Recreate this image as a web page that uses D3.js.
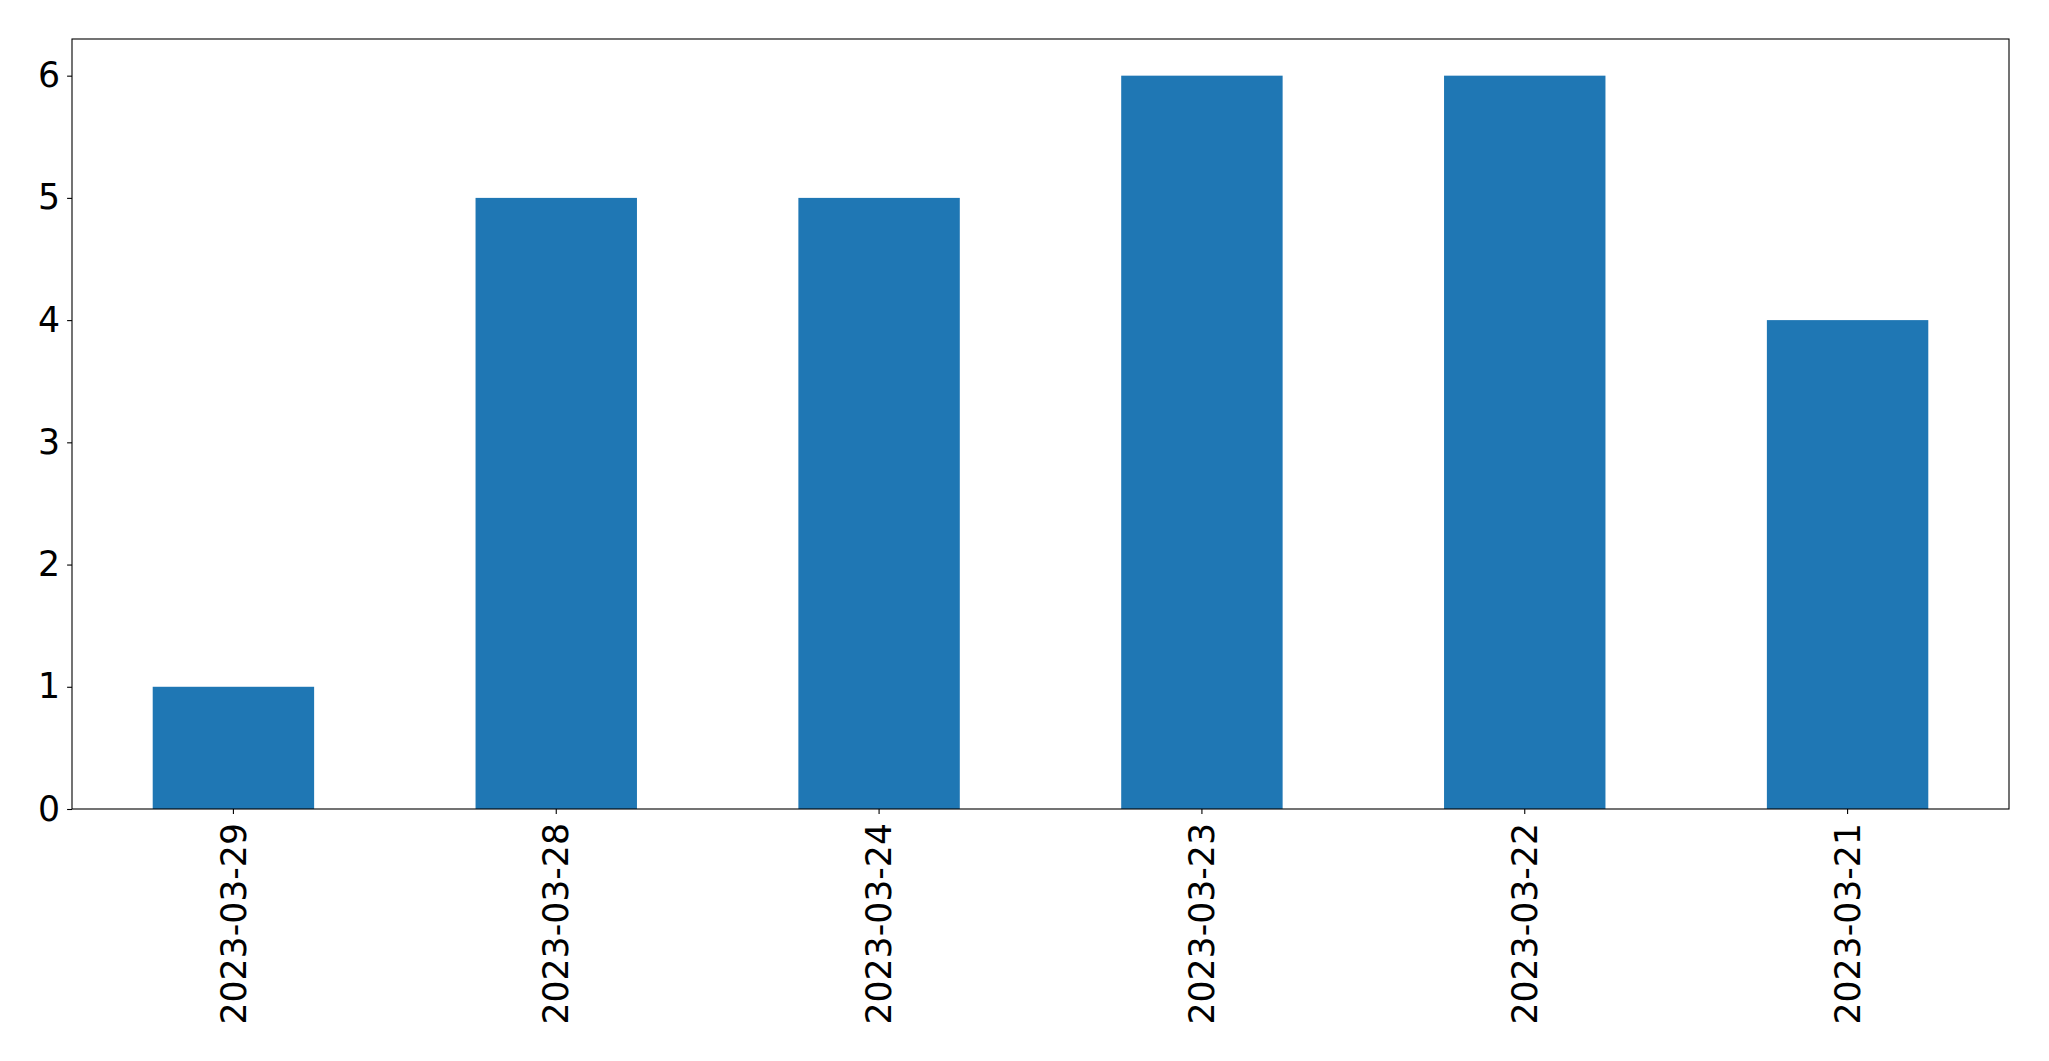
<!DOCTYPE html>
<html>
<head>
<meta charset="utf-8">
<script src="https://cdn.jsdelivr.net/npm/d3@7"></script>
<style>
  html, body { margin: 0; padding: 0; background: #fff; }
  svg { display: block; }
  text { font-family: "DejaVu Sans", sans-serif; }
</style>
</head>
<body>
<script>
const categories = ["2023-03-29", "2023-03-28", "2023-03-24", "2023-03-23", "2023-03-22", "2023-03-21"];
const values = [1, 5, 5, 6, 6, 4];
const yTicks = [0, 1, 2, 3, 4, 5, 6];

const W = 2049, H = 1061;
const margin = { left: 72, right: 2049 - 2009, top: 39, bottom: 1061 - 809 };
const svg = d3.select("body").append("svg").attr("width", W).attr("height", H);

const x = d3.scaleBand().domain(categories)
  .range([margin.left, W - margin.right])
  .paddingInner(0.5).paddingOuter(0.25);
const y = d3.scaleLinear().domain([0, 6.3]).range([H - margin.bottom, margin.top]);

svg.append("g").selectAll("rect").data(values).join("rect")
  .attr("x", (d, i) => x(categories[i]))
  .attr("y", d => y(d))
  .attr("width", x.bandwidth())
  .attr("height", d => y(0) - y(d))
  .attr("fill", "#1f77b4");

const fs = 34.7;
const yAxis = svg.append("g").attr("transform", `translate(${margin.left},0)`)
  .call(d3.axisLeft(y).tickValues(yTicks).tickFormat(d3.format("d")).tickSize(4.9).tickPadding(7));
yAxis.select(".domain").remove();
yAxis.selectAll("text").attr("font-size", fs).attr("font-family", "DejaVu Sans").attr("fill", "#000");
yAxis.selectAll("line").attr("stroke", "#000").attr("stroke-width", 1.1);

const xAxis = svg.append("g").attr("transform", `translate(0,${H - margin.bottom})`)
  .call(d3.axisBottom(x).tickSize(4.9).tickPadding(7));
xAxis.select(".domain").remove();
xAxis.selectAll("line").attr("stroke", "#000").attr("stroke-width", 1.1);
xAxis.selectAll("text")
  .attr("font-size", fs).attr("font-family", "DejaVu Sans").attr("fill", "#000")
  .attr("transform", "rotate(-90)")
  .attr("text-anchor", "end")
  .attr("x", -14).attr("y", 0).attr("dy", "0.35em");

svg.append("rect")
  .attr("x", margin.left).attr("y", margin.top)
  .attr("width", W - margin.right - margin.left)
  .attr("height", H - margin.bottom - margin.top)
  .attr("fill", "none").attr("stroke", "#000").attr("stroke-width", 1.1);
</script>
</body>
</html>
